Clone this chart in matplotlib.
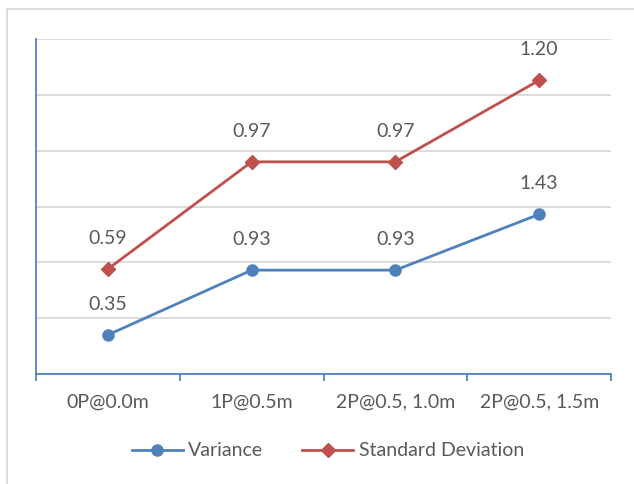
import numpy as np
import matplotlib
matplotlib.use('Agg')
import matplotlib.pyplot as plt
from matplotlib.lines import Line2D
from matplotlib.transforms import blended_transform_factory

# 資料
categories = ['0P@0.0m', '1P@0.5m', '2P@0.5, 1.0m', '2P@0.5, 1.5m']
variance = [0.35, 0.93, 0.93, 1.43]
std_dev = [0.59, 0.97, 0.97, 1.20]

blue = '#4F81BD'
red = '#C0504D'
text_color = '#595959'
fs = 14

plt.rcParams['font.family'] = ['Lato', 'DejaVu Sans']

W, H = 634, 484
fig = plt.figure(figsize=(W / 100, H / 100), dpi=100)
ax = fig.add_axes([36 / W, 1 - 374 / H, (611 - 36) / W, (374 - 39) / H])

# 堆疊折線：標準差疊在變異數上面
x = np.arange(len(categories))
var_arr = np.array(variance)
stacked = var_arr + np.array(std_dev)

ax.plot(x, var_arr, color=blue, lw=2, marker='o', ms=8, label='Variance')
ax.plot(x, stacked, color=red, lw=2, marker='D', ms=7, label='Standard Deviation')

for xi, yi, v in zip(x, var_arr, variance):
    ax.annotate(f'{v:.2f}', (xi, yi), xytext=(0, 22), textcoords='offset points',
                ha='center', va='center', fontsize=fs, color=text_color)
for xi, yi, v in zip(x, stacked, std_dev):
    ax.annotate(f'{v:.2f}', (xi, yi), xytext=(0, 22), textcoords='offset points',
                ha='center', va='center', fontsize=fs, color=text_color)

ax.set_xlim(-0.5, len(categories) - 0.5)
ax.set_ylim(0, 3)
ax.set_yticks(np.arange(0, 3.01, 0.5))
ax.set_yticklabels([])
ax.tick_params(axis='y', length=0)
ax.grid(axis='y', color='#D9D9D9', lw=1.3)
ax.set_axisbelow(True)

# 刻度在類別之間，標籤放在類別中心
ax.set_xticks(np.arange(-0.5, len(categories), 1))
ax.set_xticklabels([])
ax.tick_params(axis='x', length=5, color=blue, width=1.3)
label_trans = blended_transform_factory(ax.transData, fig.transFigure)
for xi, c in zip(x, categories):
    ax.text(xi, 1 - 402 / H, c, transform=label_trans,
            ha='center', va='center', fontsize=fs, color=text_color)

for s in ['top', 'right']:
    ax.spines[s].set_visible(False)
for s in ['left', 'bottom']:
    ax.spines[s].set_color(blue)
    ax.spines[s].set_linewidth(1.3)

leg = fig.legend(loc='center', bbox_to_anchor=(328 / W, 1 - 451 / H), ncol=2, frameon=False,
                 fontsize=fs, handlelength=2.6, columnspacing=2.0, handletextpad=0.3)
for t in leg.get_texts():
    t.set_color(text_color)

# 外框
fig.add_artist(Line2D([6.5 / W, 6.5 / W], [0, 1 - 9 / H], color='#D9D9D9', lw=1.3))
fig.add_artist(Line2D([6.5 / W, 1], [1 - 9 / H, 1 - 9 / H], color='#D9D9D9', lw=1.3))

fig.savefig('out.png', dpi=100)
